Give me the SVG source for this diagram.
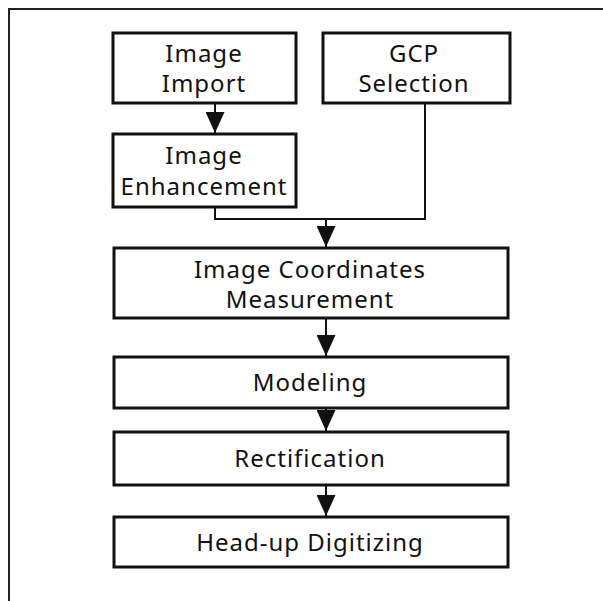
<svg xmlns="http://www.w3.org/2000/svg" width="603" height="601" viewBox="0 0 603 601">
<style>
.box{fill:#fff;stroke:#111;stroke-width:3}
.t{font-family:"Noto Sans","DejaVu Sans",sans-serif;font-size:24px;fill:#111;text-anchor:middle;letter-spacing:1px}
.c{fill:none;stroke:#111;stroke-width:2}
.frame{fill:none;stroke:#222;stroke-width:2}
</style>
<defs>
<marker id="ah" markerWidth="21" markerHeight="19" refX="21" refY="9.5" orient="auto" markerUnits="userSpaceOnUse" viewBox="0 0 21 19">
<path d="M0,0 L21,9.5 L0,19 Z" fill="#111"/>
</marker>
</defs>
<path class="frame" d="M9,601 L9,9 L603,9"/>
<g id="connectors">
<line class="c" x1="215" y1="103" x2="215" y2="133" marker-end="url(#ah)"/>
<path class="c" d="M215,207 L215,219 L425,219 L425,103"/>
<line class="c" x1="326" y1="219" x2="326" y2="247" marker-end="url(#ah)"/>
<line class="c" x1="326" y1="318" x2="326" y2="356" marker-end="url(#ah)"/>
<line class="c" x1="326" y1="408" x2="326" y2="431" marker-end="url(#ah)"/>
<line class="c" x1="326" y1="485" x2="326" y2="516" marker-end="url(#ah)"/>
</g>
<g id="import">
<rect class="box" x="113" y="33" width="183" height="70"/>
<text class="t" x="204" y="62">Image</text>
<text class="t" x="204" y="92">Import</text>
</g>
<g id="gcp">
<rect class="box" x="323" y="33" width="187" height="70"/>
<text class="t" x="414" y="62">GCP</text>
<text class="t" x="414" y="92">Selection</text>
</g>
<g id="enhancement">
<rect class="box" x="113" y="134" width="183" height="73"/>
<text class="t" x="204" y="164">Image</text>
<text class="t" x="204" y="195">Enhancement</text>
</g>
<g id="measurement">
<rect class="box" x="114" y="248" width="394" height="70"/>
<text class="t" x="310" y="278">Image Coordinates</text>
<text class="t" x="310" y="308">Measurement</text>
</g>
<g id="modeling">
<rect class="box" x="114" y="357" width="394" height="51"/>
<text class="t" x="310" y="391">Modeling</text>
</g>
<g id="rectification">
<rect class="box" x="114" y="432" width="394" height="53"/>
<text class="t" x="310" y="467">Rectification</text>
</g>
<g id="headup">
<rect class="box" x="114" y="517" width="394" height="50"/>
<text class="t" x="310" y="551">Head-up Digitizing</text>
</g>
</svg>
